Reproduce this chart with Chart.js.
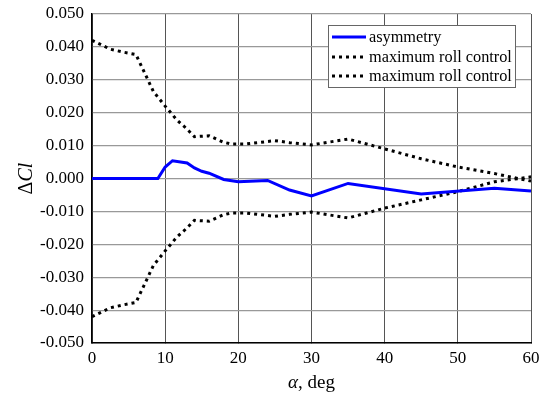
<!DOCTYPE html>
<html>
<head>
<meta charset="utf-8">
<script src="https://cdn.jsdelivr.net/npm/chart.js@4.4.1/dist/chart.umd.min.js"></script>
<style>
  html, body { margin: 0; padding: 0; background: #fff; }
  #wrap { width: 541px; height: 394px; }
</style>
</head>
<body>
<div id="wrap"><canvas id="clChart"></canvas></div>
<script>
// series data
var asymAlpha = [0, 9, 10, 11, 13, 14, 15, 16, 18, 20, 24, 27, 30, 35, 45, 55, 60];
var asymValues = [0, 0, 0.0035, 0.0054, 0.0047, 0.0032, 0.0022, 0.0016, -0.0003, -0.001, -0.0006, -0.0035, -0.0053, -0.0015, -0.0047, -0.003, -0.0038];

var rollAlpha = [0, 2.5, 4.3, 6, 7, 8.4, 10, 11.6, 13, 14, 16, 18, 19, 21, 25, 27, 30, 35, 40, 45, 50, 55, 60];
var rollUpper = [0.042, 0.0393, 0.0384, 0.0377, 0.033, 0.0264, 0.022, 0.0178, 0.015, 0.0127, 0.013, 0.011, 0.0105, 0.0105, 0.0115, 0.0109, 0.0102, 0.012, 0.009, 0.006, 0.0035, 0.0015, -0.0008];
var rollLower = [-0.042, -0.0393, -0.0384, -0.0377, -0.033, -0.0264, -0.022, -0.0178, -0.015, -0.0127, -0.013, -0.011, -0.0105, -0.0105, -0.0115, -0.0109, -0.0102, -0.012, -0.009, -0.0065, -0.004, -0.001, 0.0005];

var seriesLabels = ["asymmetry", "maximum roll control", "maximum roll control"];
var xTicks = [0, 10, 20, 30, 40, 50, 60];
var yTicks = [-0.05, -0.04, -0.03, -0.02, -0.01, 0, 0.01, 0.02, 0.03, 0.04, 0.05];

function toPoints(xs, ys) {
  var pts = [];
  for (let i = 0; i < xs.length; i++) {
    pts.push({ x: xs[i], y: ys[i] });
  }
  return pts;
}

var serif = "'Liberation Serif', 'DejaVu Serif', serif";

// legend box inside plot + mixed-style axis titles
var extrasPlugin = {
  id: "extras",
  afterDraw: function (chart) {
    var ctx = chart.ctx;
    var area = chart.chartArea;
    ctx.save();

    // legend
    var bx = 328, by = 25, bw = 187, bh = 62;
    ctx.fillStyle = "#fff";
    ctx.fillRect(bx, by, bw, bh);
    ctx.strokeStyle = "#666";
    ctx.lineWidth = 1;
    ctx.strokeRect(bx + 0.5, by + 0.5, bw, bh);
    ctx.font = "16.3px " + serif;
    ctx.textBaseline = "middle";
    var rows = [37, 57, 76];
    chart.data.datasets.forEach(function (ds, i) {
      ctx.beginPath();
      ctx.strokeStyle = ds.borderColor;
      ctx.lineWidth = ds.borderWidth;
      ctx.setLineDash(ds.borderDash || []);
      ctx.moveTo(332, rows[i]);
      ctx.lineTo(366, rows[i]);
      ctx.stroke();
      ctx.setLineDash([]);
      ctx.fillStyle = "#000";
      ctx.textAlign = "left";
      ctx.fillText(ds.label, 369, rows[i] + 1);
    });

    // x title: italic alpha, upright rest
    ctx.fillStyle = "#000";
    var a = "\u03b1";
    ctx.font = "italic 19px " + serif;
    var wa = ctx.measureText(a).width;
    ctx.font = "19px " + serif;
    var wr = ctx.measureText(", deg").width;
    var cx = (area.left + area.right) / 2;
    var sx = cx - (wa + wr) / 2;
    ctx.textAlign = "left";
    ctx.textBaseline = "alphabetic";
    ctx.font = "italic 19px " + serif;
    ctx.fillText(a, sx, 388);
    ctx.font = "19px " + serif;
    ctx.fillText(", deg", sx + wa, 388);

    // y title: upright Delta, italic Cl, rotated
    ctx.translate(32, (area.top + area.bottom) / 2);
    ctx.rotate(-Math.PI / 2);
    ctx.font = "20px " + serif;
    var wd = ctx.measureText("\u0394").width;
    ctx.font = "italic 20px " + serif;
    var wc = ctx.measureText("Cl").width;
    var ys = -(wd + wc) / 2;
    ctx.font = "20px " + serif;
    ctx.fillText("\u0394", ys, 0);
    ctx.font = "italic 20px " + serif;
    ctx.fillText("Cl", ys + wd, 0);
    ctx.restore();
  }
};

const ctxCl = document.getElementById("clChart");

new Chart(ctxCl, {
  type: "line",
  data: {
    datasets: [
      {
        label: seriesLabels[0],
        data: toPoints(asymAlpha, asymValues),
        borderColor: "#0000ff",
        borderWidth: 3,
        pointRadius: 0,
        tension: 0,
      },
      {
        label: seriesLabels[1],
        data: toPoints(rollAlpha, rollUpper),
        borderColor: "#000",
        borderWidth: 3,
        borderDash: [3, 4],
        pointRadius: 0,
        tension: 0,
      },
      {
        label: seriesLabels[2],
        data: toPoints(rollAlpha, rollLower),
        borderColor: "#000",
        borderWidth: 3,
        borderDash: [3, 4],
        pointRadius: 0,
        tension: 0,
      },
    ],
  },
  options: {
    responsive: true,
    maintainAspectRatio: false,
    animation: false,
    layout: { padding: { top: 14, right: 10, left: 0, bottom: 0 } },
    plugins: {
      legend: { display: false },
      tooltip: { enabled: false },
    },
    scales: {
      x: {
        type: "linear",
        min: 0,
        max: 60,
        afterBuildTicks: function (scale) {
          scale.ticks = xTicks.map(function (v) { return { value: v }; });
        },
        afterFit: function (scale) {
          scale.height = 51;
          scale.paddingLeft = 0;
          scale.paddingRight = 0;
        },
        ticks: {
          color: "#000",
          font: { family: serif, size: 17 },
          padding: 5,
          maxRotation: 0,
        },
        grid: { color: "#555", lineWidth: 1, tickLength: 0 },
        border: { color: "#000", width: 1.5 },
      },
      y: {
        min: -0.05,
        max: 0.05,
        afterBuildTicks: function (scale) {
          scale.ticks = yTicks.map(function (v) { return { value: v }; });
        },
        afterFit: function (scale) {
          scale.width = 92;
          scale.paddingTop = 0;
          scale.paddingBottom = 0;
        },
        ticks: {
          color: "#000",
          font: { family: serif, size: 17 },
          padding: 8,
          callback: function (v) { return v.toFixed(3); },
        },
        grid: { color: "#999", lineWidth: 1.2, tickLength: 0 },
        border: { color: "#000", width: 1.5 },
      },
    },
  },
  plugins: [extrasPlugin],
});
</script>
</body>
</html>
